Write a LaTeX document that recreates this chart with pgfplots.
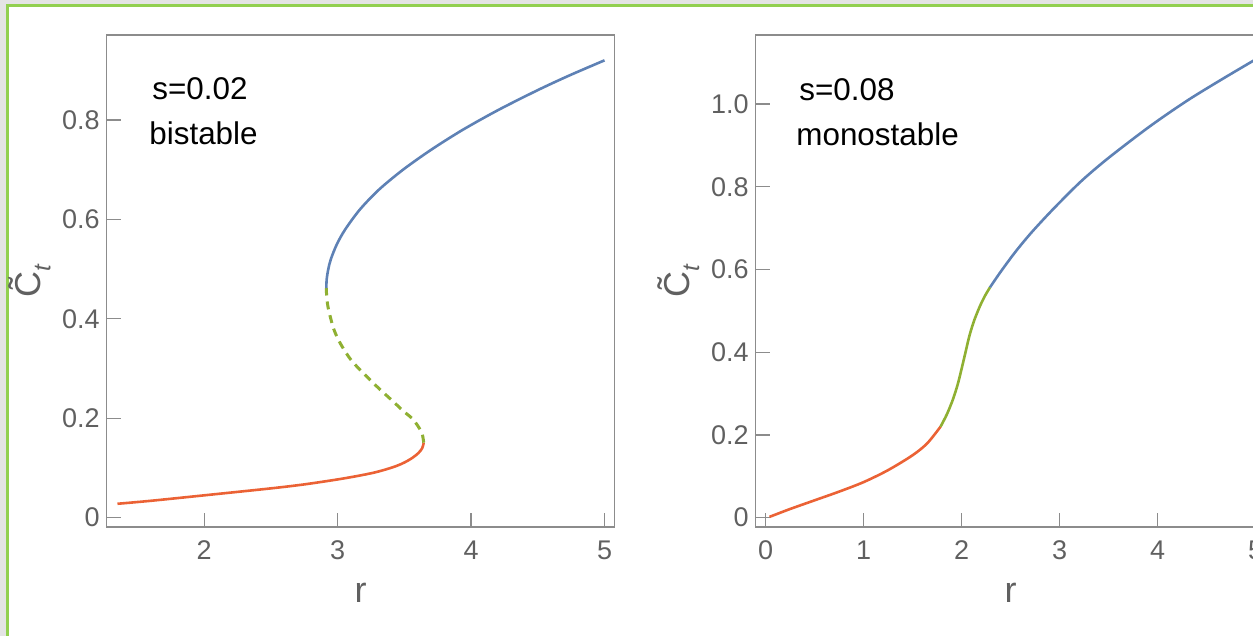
\documentclass[border=0pt]{standalone}
\usepackage{fontspec}
\setmainfont{Liberation Sans}
\usepackage{pgfplots}
\pgfplotsset{compat=1.18}

\definecolor{mblue}{RGB}{94,129,181}
\definecolor{mgreen}{RGB}{143,176,50}
\definecolor{mred}{RGB}{235,98,53}
\definecolor{framegray}{RGB}{140,140,140}
\definecolor{labgray}{RGB}{96,96,96}
\definecolor{winborder}{RGB}{146,208,80}
\definecolor{winstrip}{RGB}{228,228,228}

\newcommand{\Ct}{\~{C}\raisebox{-0.28em}{\fontsize{12}{12}\selectfont\itshape t}}

\pgfplotsset{
  bif/.style={
    scale only axis, anchor=south west, height=246pt,
    axis line style={framegray, line width=0.6pt},
    tick style={framegray, line width=0.6pt},
    major tick length=7pt, tick align=inside,
    xtick pos=bottom, ytick pos=left,
    tick label style={font=\fontsize{13.5}{16}\selectfont, text=labgray},
    /pgf/number format/assume math mode=true,
    xticklabel style={yshift=-3.5pt},
    every axis x label/.style={at={(axis description cs:0.5,-0.134)}, anchor=center,
      font=\fontsize{18}{20}\selectfont, text=labgray},
    every axis y label/.style={at={(axis description cs:-0.152,0.5)}, rotate=90, anchor=center,
      font=\fontsize{18}{20}\selectfont, text=labgray},
    xlabel={r}, ylabel={\Ct},
  },
  stab/.style={line width=1.3pt, smooth},
}

\begin{document}
\begin{tikzpicture}
\path[use as bounding box] (0,0) rectangle (626.5pt,318pt);
\clip (0,0) rectangle (626.5pt,318pt);

% window frame of the screenshot
\fill[winstrip] (0,0) rectangle (3pt,318pt);
\fill[winstrip] (0,316pt) rectangle (626.5pt,318pt);
\draw[winborder, line width=1.4pt] (3.6pt,0) -- (3.6pt,315.3pt) -- (626.5pt,315.3pt);

% s = 0.02, bistable
\begin{axis}[bif, at={(53.4pt,54.5pt)}, width=253.8pt,
  xmin=1.27, xmax=5.074, ymin=-0.0187, ymax=0.971,
  xtick={2,3,4,5}, xticklabels={2,3,4,5},
  ytick={0,0.2,0.4,0.6,0.8}, yticklabels={0,0.2,0.4,0.6,0.8}]
\addplot[stab, mred] coordinates {
  (1.35,0.028) (1.6,0.034) (2.0,0.045) (2.5,0.059) (2.75,0.067) (3.0,0.077)
  (3.15,0.084) (3.27,0.0905) (3.36,0.097) (3.44,0.104) (3.50,0.111)
  (3.558,0.120) (3.605,0.130) (3.634,0.140) (3.645,0.151)};
\addplot[stab, mgreen, line width=1.5pt, dash pattern=on 4pt off 3pt] coordinates {
  (3.645,0.151) (3.632,0.170) (3.595,0.187) (3.557,0.200) (3.49,0.215)
  (3.419,0.233) (3.27,0.270) (3.12,0.311) (3.06,0.333) (3.007,0.357)
  (2.97,0.380) (2.945,0.404) (2.927,0.425) (2.918,0.445) (2.915,0.462)};
\addplot[stab, mblue] coordinates {
  (2.915,0.462) (2.918,0.480) (2.930,0.500) (2.949,0.520) (2.994,0.550)
  (3.057,0.580) (3.167,0.620) (3.31,0.660) (3.49,0.700) (3.70,0.740)
  (3.936,0.780) (4.203,0.820) (4.499,0.860) (4.74,0.890) (5.0,0.920)};
\end{axis}

% s = 0.08, monostable
\begin{axis}[bif, at={(377.9pt,54.5pt)}, width=254.8pt,
  xmin=-0.1, xmax=5.1, ymin=-0.0225, ymax=1.167,
  xtick={0,1,2,3,4,5}, xticklabels={0,1,2,3,4,5},
  ytick={0,0.2,0.4,0.6,0.8,1.0}, yticklabels={0,0.2,0.4,0.6,0.8,1.0}]
\addplot[stab, mred] coordinates {
  (0.04,0.002) (0.25,0.021) (0.5,0.042) (0.75,0.063) (1.0,0.086)
  (1.25,0.115) (1.5,0.151) (1.65,0.180) (1.785,0.220)};
\addplot[stab, mgreen] coordinates {
  (1.785,0.220) (1.85,0.250) (1.91,0.285) (1.96,0.322) (2.0,0.360)
  (2.04,0.400) (2.08,0.440) (2.13,0.478) (2.19,0.513) (2.24,0.537) (2.29,0.557)};
\addplot[stab, mblue] coordinates {
  (2.29,0.557) (2.40,0.595) (2.55,0.643) (2.70,0.686) (2.85,0.725)
  (3.0,0.762) (3.227,0.815) (3.5,0.870) (3.92,0.946) (4.3,1.008)
  (4.65,1.059) (5.0,1.108)};
\end{axis}

\node[anchor=base west, inner sep=0, font=\fontsize{15.7}{18}\selectfont] at (76pt,268pt) {s=0.02};
\node[anchor=base west, inner sep=0, font=\fontsize{15.7}{18}\selectfont] at (74.5pt,245.5pt) {bistable};
\node[anchor=base west, inner sep=0, font=\fontsize{15.7}{18}\selectfont] at (399.5pt,267.5pt) {s=0.08};
\node[anchor=base west, inner sep=0, font=\fontsize{15.7}{18}\selectfont] at (398pt,245pt) {monostable};
\end{tikzpicture}
\end{document}
